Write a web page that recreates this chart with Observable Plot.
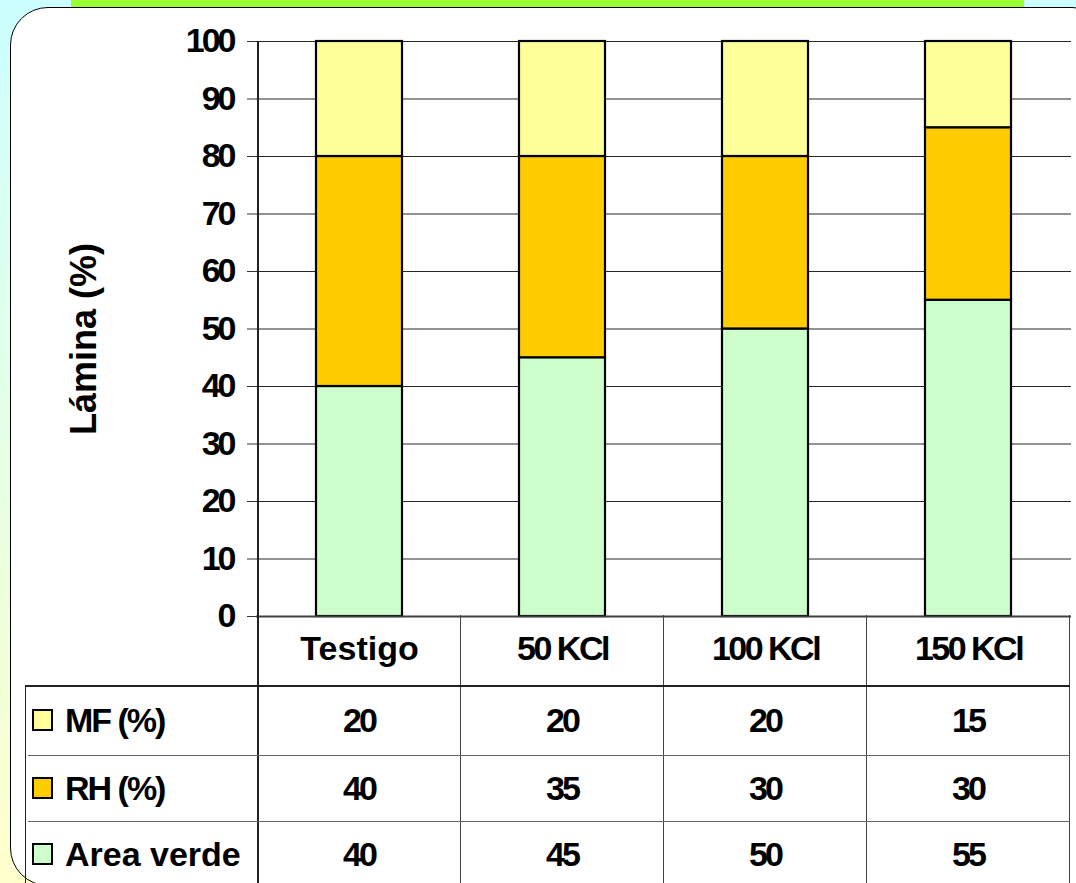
<!DOCTYPE html>
<html><head><meta charset="utf-8">
<script src="https://cdn.jsdelivr.net/npm/d3@7"></script>
<script src="https://cdn.jsdelivr.net/npm/@observablehq/plot@0.6"></script>
<style>
html,body{margin:0;padding:0;width:1076px;height:883px;overflow:hidden;font-family:"Liberation Sans",Arial,sans-serif;}
#bg{position:absolute;left:0;top:0;width:1076px;height:883px;background:linear-gradient(to bottom,#CCFFFF,#FFFFCC);overflow:hidden;}
#band{position:absolute;left:71px;top:0;width:953px;height:7px;background:#99FF33;}
#panel{position:absolute;left:10px;top:7px;width:1100px;height:879px;background:#fff;border:1.5px solid #000;border-radius:38px;box-sizing:border-box;}
#chart{position:absolute;left:0;top:0;}
.ln{position:absolute;}
.cell{position:absolute;transform:translate(-50%,-50%);font-weight:bold;font-size:34px;line-height:1;white-space:nowrap;color:#000;}
.leg{position:absolute;transform:translateY(-50%);font-weight:bold;font-size:34px;line-height:1;white-space:nowrap;color:#000;}
.sw{position:absolute;width:17px;height:18px;border:2px solid #000;}
g[aria-label="y-axis tick label"] text{letter-spacing:-3px;}
</style>
</head><body>
<div id="bg"><div id="band"></div><div id="panel"></div><div id="chart"></div><div id="table"></div></div>
<script>
const categories = ["Testigo", "50 KCl", "100 KCl", "150 KCl"];
const series = ["MF (%)", "RH (%)", "Area verde"];
const mfValues = [20, 20, 20, 15];
const rhValues = [40, 35, 30, 30];
const verdeValues = [40, 45, 50, 55];
const seriesColors = ["#FFFF99", "#FFCC00", "#CCFFCC"];
const yTicks = [0, 10, 20, 30, 40, 50, 60, 70, 80, 90, 100];
const yLabel = "Lámina (%)";

// stacked rows: bottom to top
const rows = [];
categories.forEach((c, i) => {
  rows.push({cat: c, serie: "Area verde", value: verdeValues[i]});
  rows.push({cat: c, serie: "RH (%)", value: rhValues[i]});
  rows.push({cat: c, serie: "MF (%)", value: mfValues[i]});
});
const tableRows = [
  {serie: "MF (%)", values: mfValues},
  {serie: "RH (%)", values: rhValues},
  {serie: "Area verde", values: verdeValues}
];

const plot = Plot.plot({
  width: 1076, height: 686,
  marginTop: 41, marginBottom: 70, marginLeft: 256, marginRight: 5,
  style: {background: "transparent", fontFamily: "'Liberation Sans', Arial, sans-serif", color: "#000"},
  x: {domain: categories, paddingInner: 0.578, paddingOuter: 0.289, label: null, axis: null},
  y: {domain: [0, 100], label: null, axis: null},
  color: {domain: series, range: seriesColors},
  marks: [
    Plot.gridY(yTicks, {stroke: "#000", strokeOpacity: 0.85, strokeWidth: 1}),
    Plot.barY(rows, Plot.stackY({x: "cat", y: "value", fill: "serie", stroke: "#000", strokeWidth: 2.2})),
    Plot.ruleY([0], {stroke: "#404040", strokeWidth: 2}),
    Plot.axisY(yTicks, {tickSize: 9, tickPadding: 14, fontSize: 34, fontWeight: "bold", tickFormat: d => String(d), stroke: "#333", label: null}),
    Plot.axisX({tickSize: 0, tickPadding: 19, fontSize: 34, fontWeight: "bold", label: null}),
    Plot.text([yLabel], {frameAnchor: "left", textAnchor: "middle", dx: -172, dy: 10, rotate: -90, fontSize: 36, fontWeight: "bold", text: d => d})
  ]
});
document.getElementById("chart").appendChild(plot);
d3.select(plot).selectAll('g[aria-label="x-axis tick label"] text')
  .attr("letter-spacing", function() { return this.textContent.includes("KCl") ? "-2.5px" : "0px"; });

// table drawn from the plot's own x scale
const xs = plot.scale("x");
const step = xs.step;
const centers = categories.map(c => xs.apply(c) + xs.bandwidth / 2);
const left = centers[0] - step / 2;
const right = centers[centers.length - 1] + step / 2;
const table = document.getElementById("table");
function line(x, y, w, h, color) {
  const d = document.createElement("div");
  d.className = "ln";
  Object.assign(d.style, {left: x + "px", top: y + "px", width: w + "px", height: h + "px", background: color});
  table.appendChild(d);
}
const headerTop = 615, headerBottom = 685, bottom = 900;
// vertical lines
line(left - 0.5, 41, 1.5, bottom - 41, "#222");
centers.forEach((c, i) => line(c + step / 2 - 0.5, headerTop, 1.3, bottom - headerTop, "#444"));
line(25, headerBottom, 1.3, bottom - headerBottom, "#222");
// horizontal lines
line(25, headerBottom, right - 25, 1.5, "#222");
line(28, headerBottom + 70, right - 28, 1.2, "#666");
line(28, headerBottom + 136, right - 28, 1.2, "#666");
const rowCenters = [720, 788, 854];
tableRows.forEach((r, ri) => {
  const y = rowCenters[ri];
  const sw = document.createElement("div");
  sw.className = "sw";
  Object.assign(sw.style, {left: "32px", top: (y - 11) + "px", background: seriesColors[series.indexOf(r.serie)]});
  table.appendChild(sw);
  const lg = document.createElement("div");
  lg.className = "leg";
  lg.textContent = r.serie;
  Object.assign(lg.style, {left: "65px", top: y + "px", letterSpacing: r.serie.includes("(%)") ? "-2px" : "0px"});
  table.appendChild(lg);
  r.values.forEach((v, ci) => {
    const t = document.createElement("div");
    t.className = "cell";
    t.textContent = v;
    Object.assign(t.style, {left: centers[ci] + "px", top: y + "px", letterSpacing: "-3px"});
    table.appendChild(t);
  });
});
</script>
</body></html>
